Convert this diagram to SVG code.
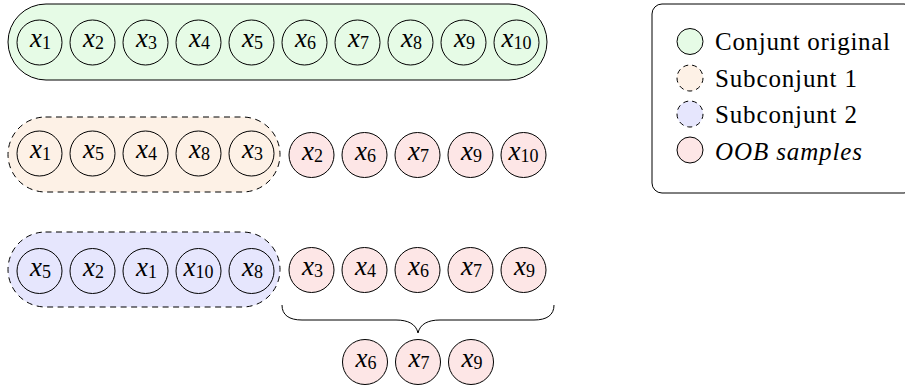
<svg xmlns="http://www.w3.org/2000/svg" width="905" height="390" viewBox="0 0 905 390">
  <defs>
    <style>
      .node circle { stroke: #000; stroke-width: 1; }
      .g { fill: #e6fbe6; }
      .o { fill: #fdf1e6; }
      .b { fill: #e6e6fd; }
      .r { fill: #fde6e6; }
      .lbl { font-size: 27px; text-anchor: middle; }
      .sub { font-size: 18px; }
      .grp { stroke: #000; stroke-width: 1; }
      .dash { stroke-dasharray: 6 4.5; }
      .leg { font-size: 25px; }
    </style>
  </defs>

  <!-- set outlines -->
  <g id="set-original"><rect class="grp g" x="8" y="4" width="539" height="76" rx="38"/></g>
  <g id="set-sub1"><rect class="grp o dash" x="8" y="117" width="272" height="75" rx="37.5"/></g>
  <g id="set-sub2"><rect class="grp b dash" x="8" y="232" width="272" height="75" rx="37.5"/></g>

  <!-- original set -->
  <g id="orig-x1" class="node"><circle class="g" cx="39.5" cy="42.5" r="22.5"/><text class="lbl" font-family="Liberation Serif" font-style="italic" x="40.5" y="47">x<tspan class="sub" font-style="normal" dy="2">1</tspan></text></g>
  <g id="orig-x2" class="node"><circle class="g" cx="92.5" cy="42.5" r="22.5"/><text class="lbl" font-family="Liberation Serif" font-style="italic" x="93.5" y="47">x<tspan class="sub" font-style="normal" dy="2">2</tspan></text></g>
  <g id="orig-x3" class="node"><circle class="g" cx="145.5" cy="42.5" r="22.5"/><text class="lbl" font-family="Liberation Serif" font-style="italic" x="146.5" y="47">x<tspan class="sub" font-style="normal" dy="2">3</tspan></text></g>
  <g id="orig-x4" class="node"><circle class="g" cx="198.5" cy="42.5" r="22.5"/><text class="lbl" font-family="Liberation Serif" font-style="italic" x="199.5" y="47">x<tspan class="sub" font-style="normal" dy="2">4</tspan></text></g>
  <g id="orig-x5" class="node"><circle class="g" cx="251.5" cy="42.5" r="22.5"/><text class="lbl" font-family="Liberation Serif" font-style="italic" x="252.5" y="47">x<tspan class="sub" font-style="normal" dy="2">5</tspan></text></g>
  <g id="orig-x6" class="node"><circle class="g" cx="304.5" cy="42.5" r="22.5"/><text class="lbl" font-family="Liberation Serif" font-style="italic" x="305.5" y="47">x<tspan class="sub" font-style="normal" dy="2">6</tspan></text></g>
  <g id="orig-x7" class="node"><circle class="g" cx="357.5" cy="42.5" r="22.5"/><text class="lbl" font-family="Liberation Serif" font-style="italic" x="358.5" y="47">x<tspan class="sub" font-style="normal" dy="2">7</tspan></text></g>
  <g id="orig-x8" class="node"><circle class="g" cx="410.5" cy="42.5" r="22.5"/><text class="lbl" font-family="Liberation Serif" font-style="italic" x="411.5" y="47">x<tspan class="sub" font-style="normal" dy="2">8</tspan></text></g>
  <g id="orig-x9" class="node"><circle class="g" cx="463.5" cy="42.5" r="22.5"/><text class="lbl" font-family="Liberation Serif" font-style="italic" x="464.5" y="47">x<tspan class="sub" font-style="normal" dy="2">9</tspan></text></g>
  <g id="orig-x10" class="node"><circle class="g" cx="516.5" cy="42.5" r="22.5"/><text class="lbl" font-family="Liberation Serif" font-style="italic" x="516.5" y="47">x<tspan class="sub" font-style="normal" dy="2">10</tspan></text></g>

  <!-- subset 1 -->
  <g id="s1-x1" class="node"><circle class="o" cx="39.5" cy="153.5" r="22.5"/><text class="lbl" font-family="Liberation Serif" font-style="italic" x="40.5" y="158">x<tspan class="sub" font-style="normal" dy="2">1</tspan></text></g>
  <g id="s1-x5" class="node"><circle class="o" cx="92.5" cy="153.5" r="22.5"/><text class="lbl" font-family="Liberation Serif" font-style="italic" x="93.5" y="158">x<tspan class="sub" font-style="normal" dy="2">5</tspan></text></g>
  <g id="s1-x4" class="node"><circle class="o" cx="145.5" cy="153.5" r="22.5"/><text class="lbl" font-family="Liberation Serif" font-style="italic" x="146.5" y="158">x<tspan class="sub" font-style="normal" dy="2">4</tspan></text></g>
  <g id="s1-x8" class="node"><circle class="o" cx="198.5" cy="153.5" r="22.5"/><text class="lbl" font-family="Liberation Serif" font-style="italic" x="199.5" y="158">x<tspan class="sub" font-style="normal" dy="2">8</tspan></text></g>
  <g id="s1-x3" class="node"><circle class="o" cx="251.5" cy="153.5" r="22.5"/><text class="lbl" font-family="Liberation Serif" font-style="italic" x="252.5" y="158">x<tspan class="sub" font-style="normal" dy="2">3</tspan></text></g>

  <!-- out-of-bag for subset 1 -->
  <g id="oob1-x2" class="node"><circle class="r" cx="311.5" cy="155" r="22.5"/><text class="lbl" font-family="Liberation Serif" font-style="italic" x="312.5" y="159.5">x<tspan class="sub" font-style="normal" dy="2">2</tspan></text></g>
  <g id="oob1-x6" class="node"><circle class="r" cx="364.5" cy="155" r="22.5"/><text class="lbl" font-family="Liberation Serif" font-style="italic" x="365.5" y="159.5">x<tspan class="sub" font-style="normal" dy="2">6</tspan></text></g>
  <g id="oob1-x7" class="node"><circle class="r" cx="417.5" cy="155" r="22.5"/><text class="lbl" font-family="Liberation Serif" font-style="italic" x="418.5" y="159.5">x<tspan class="sub" font-style="normal" dy="2">7</tspan></text></g>
  <g id="oob1-x9" class="node"><circle class="r" cx="470.5" cy="155" r="22.5"/><text class="lbl" font-family="Liberation Serif" font-style="italic" x="471.5" y="159.5">x<tspan class="sub" font-style="normal" dy="2">9</tspan></text></g>
  <g id="oob1-x10" class="node"><circle class="r" cx="523.5" cy="155" r="22.5"/><text class="lbl" font-family="Liberation Serif" font-style="italic" x="523.5" y="159.5">x<tspan class="sub" font-style="normal" dy="2">10</tspan></text></g>

  <!-- subset 2 -->
  <g id="s2-x5" class="node"><circle class="b" cx="39.5" cy="271" r="22.5"/><text class="lbl" font-family="Liberation Serif" font-style="italic" x="40.5" y="275.5">x<tspan class="sub" font-style="normal" dy="2">5</tspan></text></g>
  <g id="s2-x2" class="node"><circle class="b" cx="92.5" cy="271" r="22.5"/><text class="lbl" font-family="Liberation Serif" font-style="italic" x="93.5" y="275.5">x<tspan class="sub" font-style="normal" dy="2">2</tspan></text></g>
  <g id="s2-x1" class="node"><circle class="b" cx="145.5" cy="271" r="22.5"/><text class="lbl" font-family="Liberation Serif" font-style="italic" x="146.5" y="275.5">x<tspan class="sub" font-style="normal" dy="2">1</tspan></text></g>
  <g id="s2-x10" class="node"><circle class="b" cx="198.5" cy="271" r="22.5"/><text class="lbl" font-family="Liberation Serif" font-style="italic" x="198.5" y="275.5">x<tspan class="sub" font-style="normal" dy="2">10</tspan></text></g>
  <g id="s2-x8" class="node"><circle class="b" cx="251.5" cy="271" r="22.5"/><text class="lbl" font-family="Liberation Serif" font-style="italic" x="252.5" y="275.5">x<tspan class="sub" font-style="normal" dy="2">8</tspan></text></g>

  <!-- out-of-bag for subset 2 -->
  <g id="oob2-x3" class="node"><circle class="r" cx="311.5" cy="270" r="22.5"/><text class="lbl" font-family="Liberation Serif" font-style="italic" x="312.5" y="274.5">x<tspan class="sub" font-style="normal" dy="2">3</tspan></text></g>
  <g id="oob2-x4" class="node"><circle class="r" cx="364.5" cy="270" r="22.5"/><text class="lbl" font-family="Liberation Serif" font-style="italic" x="365.5" y="274.5">x<tspan class="sub" font-style="normal" dy="2">4</tspan></text></g>
  <g id="oob2-x6" class="node"><circle class="r" cx="417.5" cy="270" r="22.5"/><text class="lbl" font-family="Liberation Serif" font-style="italic" x="418.5" y="274.5">x<tspan class="sub" font-style="normal" dy="2">6</tspan></text></g>
  <g id="oob2-x7" class="node"><circle class="r" cx="470.5" cy="270" r="22.5"/><text class="lbl" font-family="Liberation Serif" font-style="italic" x="471.5" y="274.5">x<tspan class="sub" font-style="normal" dy="2">7</tspan></text></g>
  <g id="oob2-x9" class="node"><circle class="r" cx="523.5" cy="270" r="22.5"/><text class="lbl" font-family="Liberation Serif" font-style="italic" x="524.5" y="274.5">x<tspan class="sub" font-style="normal" dy="2">9</tspan></text></g>

  <!-- intersection of the out-of-bag samples -->
  <g id="common-x6" class="node"><circle class="r" cx="365" cy="362" r="22.5"/><text class="lbl" font-family="Liberation Serif" font-style="italic" x="366" y="366.5">x<tspan class="sub" font-style="normal" dy="2">6</tspan></text></g>
  <g id="common-x7" class="node"><circle class="r" cx="418" cy="362" r="22.5"/><text class="lbl" font-family="Liberation Serif" font-style="italic" x="419" y="366.5">x<tspan class="sub" font-style="normal" dy="2">7</tspan></text></g>
  <g id="common-x9" class="node"><circle class="r" cx="471" cy="362" r="22.5"/><text class="lbl" font-family="Liberation Serif" font-style="italic" x="472" y="366.5">x<tspan class="sub" font-style="normal" dy="2">9</tspan></text></g>

  <!-- connectors -->
  <g id="connectors" fill="none" stroke="#000" stroke-width="1">
    <path d="M282,305 C282,315 289,320 302,320 L396,320 C408,320 416,324 418,333 C420,324 428,320 440,320 L534,320 C547,320 554,315 554,305"/>
  </g>

  <!-- legend -->
  <g id="legend">
    <rect x="652" y="4" width="262" height="189" rx="10" fill="#fff" stroke="#000" stroke-width="1"/>
    <circle class="g" cx="690" cy="41.5" r="13" stroke="#000" stroke-width="1"/>
    <circle class="o" cx="690" cy="78" r="13" stroke="#000" stroke-width="1" stroke-dasharray="5 4"/>
    <circle class="b" cx="690" cy="114" r="13" stroke="#000" stroke-width="1" stroke-dasharray="5 4"/>
    <circle class="r" cx="690" cy="150" r="13" stroke="#000" stroke-width="1"/>
    <text class="leg" font-family="Liberation Serif" x="715" y="50" textLength="175">Conjunt original</text>
    <text class="leg" font-family="Liberation Serif" x="715" y="86.5" textLength="142">Subconjunt 1</text>
    <text class="leg" font-family="Liberation Serif" x="715" y="123" textLength="142">Subconjunt 2</text>
    <text class="leg" font-family="Liberation Serif" x="715" y="159.5" textLength="147" font-style="italic">OOB samples</text>
  </g>
</svg>
